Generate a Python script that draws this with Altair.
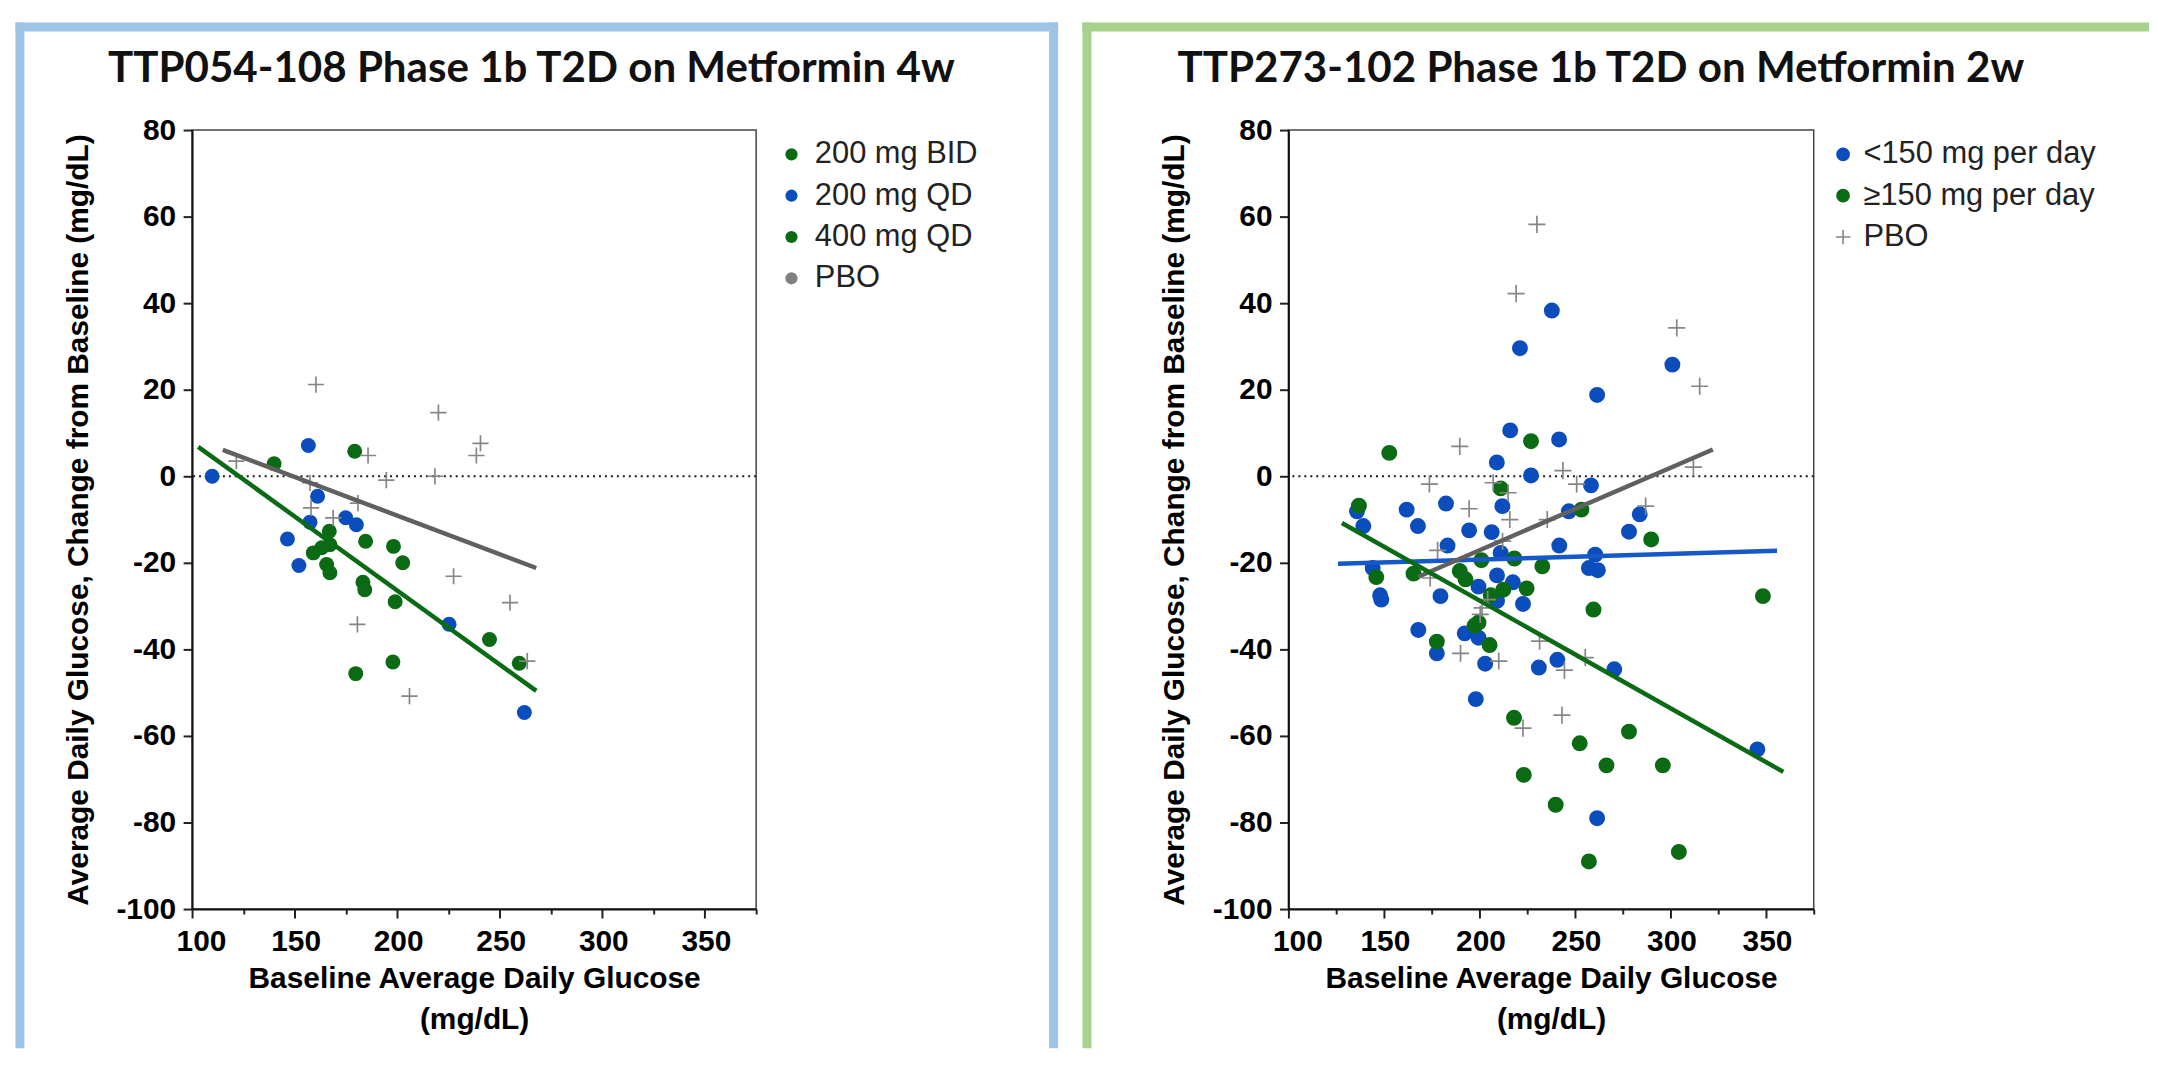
import altair as alt
import pandas as pd

# ---------------- data ----------------
X_TICKS = [100, 125, 150, 175, 200, 225, 250, 275, 300, 325, 350, 375]
Y_TICKS = [-100, -80, -60, -40, -20, 0, 20, 40, 60, 80]

L_TITLE = "TTP054-108 Phase 1b T2D on Metformin 4w"
R_TITLE = "TTP273-102 Phase 1b T2D on Metformin 2w"
X_TITLE = ["Baseline Average Daily Glucose", "(mg/dL)"]
Y_TITLE = "Average Daily Glucose, Change from Baseline (mg/dL)"

# left panel
L_GROUPS = ["200 mg BID", "200 mg QD", "400 mg QD", "PBO"]
L_BID200_X = [159.1, 163.2, 166.9, 167.2, 165.6, 167.2, 184.6, 198.2, 202.7]
L_BID200_Y = [-17.7, -16.5, -12.7, -15.8, -20.4, -22.3, -15.0, -16.2, -20.0]
L_QD400_X = [183.3, 184.2, 199.0, 179.8, 197.9, 140.0, 179.3, 245.0, 259.5]
L_QD400_Y = [-24.5, -26.2, -29.0, -45.6, -42.9, 2.9, 5.8, -37.7, -43.2]
L_QD200_X = [109.8, 156.7, 161.2, 157.5, 174.9, 180.1, 146.5, 152.1, 225.3, 262.0]
L_QD200_Y = [0.0, 7.1, -4.6, -10.6, -9.6, -11.2, -14.5, -20.6, -34.2, -54.6]
L_PBO_X = [160.4, 121.6, 157.5, 158.0, 168.8, 180.9, 185.8, 194.7, 180.6, 206.0,
           220.1, 240.6, 238.6, 218.4, 227.5, 255.0, 263.4]
L_PBO_Y = [21.2, 3.5, -1.5, -7.3, -9.6, -6.2, 4.8, -0.9, -34.2, -50.8,
           14.7, 7.6, 4.8, 0.0, -23.1, -29.2, -42.7]
L_FIT_ACTIVE_X = [103.0, 267.8]
L_FIT_ACTIVE_Y = [6.8, -49.6]
L_FIT_PBO_X = [115.0, 267.8]
L_FIT_PBO_Y = [6.1, -21.2]

# right panel
R_GROUPS = ["<150 mg per day", "\u2265150 mg per day", "PBO"]
R_LOW_X = [237.9, 221.2, 301.0, 261.6, 216.1, 241.7, 209.1, 227.0, 258.4, 212.0,
           182.5, 161.9, 135.9, 139.2, 167.8, 194.6, 206.4, 246.8, 283.9, 278.3,
           183.3, 241.8, 211.1, 260.6, 257.3, 262.0, 144.1, 148.0, 148.6, 179.6,
           168.0, 177.7, 192.3, 199.5, 199.5, 209.2, 217.5, 209.2, 222.8, 203.0,
           231.1, 240.8, 270.6, 198.1, 261.6, 345.5]
R_LOW_Y = [38.3, 29.6, 25.8, 18.8, 10.6, 8.5, 3.2, 0.2, -2.1, -6.9,
           -6.3, -7.7, -8.1, -11.5, -11.5, -12.5, -12.9, -8.1, -8.8, -12.8,
           -16.0, -16.0, -17.7, -18.1, -21.2, -21.7, -21.2, -27.5, -28.5, -27.7,
           -35.5, -40.9, -36.3, -37.3, -25.5, -22.9, -24.5, -28.8, -29.5, -43.3,
           -44.2, -42.4, -44.6, -51.5, -79.0, -63.1]
R_HIGH_X = [152.8, 227.0, 136.9, 211.1, 253.4, 289.9, 146.0, 165.5, 189.7, 192.7,
            201.0, 218.3, 232.9, 224.7, 205.9, 212.5, 197.5, 199.5, 177.7, 205.3,
            259.7, 348.4, 218.1, 252.5, 278.3, 266.5, 296.0, 223.2, 239.9, 257.3,
            304.4]
R_HIGH_Y = [5.4, 8.1, -6.8, -2.8, -7.7, -14.6, -23.3, -22.5, -21.9, -23.8,
            -19.4, -19.0, -20.8, -25.9, -27.5, -26.2, -34.5, -33.8, -38.2, -39.0,
            -30.8, -27.7, -55.8, -61.7, -59.0, -66.8, -66.8, -69.0, -75.9, -89.0,
            -86.8]
R_PBO_X = [230.1, 219.2, 303.3, 315.3, 189.7, 173.8, 207.2, 215.0, 194.6, 215.9,
           243.7, 250.9, 235.5, 287.0, 312.0, 178.1, 174.2, 212.1, 201.4, 200.4,
           204.3, 190.1, 210.1, 231.5, 255.4, 244.5, 243.2, 222.8]
R_PBO_Y = [58.2, 42.2, 34.3, 20.8, 6.9, -1.8, -1.5, -3.8, -7.5, -10.0,
           1.3, -1.8, -10.0, -6.9, 2.1, -17.1, -23.5, -15.0, -30.4, -31.9,
           -28.5, -40.9, -42.7, -38.1, -41.9, -44.8, -55.2, -58.2]
R_FIT_HIGH_X = [128.0, 359.1]
R_FIT_HIGH_Y = [-10.8, -68.3]
R_FIT_LOW_X = [126.0, 355.8]
R_FIT_LOW_Y = [-20.2, -17.2]
R_FIT_PBO_X = [168.0, 322.2]
R_FIT_PBO_Y = [-23.2, 6.2]

# ---------------- styling ----------------
GREEN = "#0b6b14"
BLUE = "#0c4dbd"
BLUE_LINE = "#1658c8"
GREY_LINE = "#606060"
GREY_PLUS = "#868686"
GREY_LEG = "#808080"
FRAME_BLUE = "#9dc3e6"
FRAME_GREEN = "#a9d18e"
PLUS = "M-1.2,0L1.2,0M0,-1.2L0,1.2"
H = 783


def pts(xs, ys, group):
    return pd.DataFrame({"x": xs, "y": ys, "group": [group] * len(xs)})


def x_enc():
    return alt.X(
        "x:Q",
        scale=alt.Scale(domain=[100, 375], nice=False, zero=False),
        axis=alt.Axis(
            values=X_TICKS,
            labelExpr="datum.value % 50 === 0 ? '' + datum.value : ''",
            tickSize={"condition": {"test": "datum.value % 50 === 0", "value": 9}, "value": 5},
            labelOffset={"condition": {"test": "datum.value === 100", "value": 9}, "value": 1},
            labelOverlap=False,
            labelFlush=False,
            labelPadding=9,
            title=X_TITLE,
            titlePadding=7,
            titleLineHeight=41,
        ),
    )


def y_enc():
    return alt.Y(
        "y:Q",
        scale=alt.Scale(domain=[-100, 80], nice=False, zero=False),
        axis=alt.Axis(values=Y_TICKS, tickSize=9, labelPadding=7.5,
                      labelExpr="datum.value < 0 ? '-' + abs(datum.value) : '' + datum.value",
                      title=Y_TITLE, titlePadding=23),
    )


def bar(x1, x2, y1, y2, color):
    # decorative frame side (panel border), placed in pixels
    return alt.Chart(pd.DataFrame({"k": [0]})).mark_rect(color=color).encode(
        x=alt.value(x1), x2=alt.value(x2), y=alt.value(y1), y2=alt.value(y2)
    )


def title_text(txt, x):
    return alt.Chart(pd.DataFrame({"t": [txt]})).mark_text(
        align="left", baseline="alphabetic", font="Lato", fontWeight="bold",
        fontSize=42.3, color="#111111"
    ).encode(x=alt.value(x), y=alt.value(-48), text="t:N")


def fit_line(xs, ys, color):
    return alt.Chart(pd.DataFrame({"x": xs, "y": ys})).mark_line(
        color=color, strokeWidth=4.5
    ).encode(x=x_enc(), y=y_enc())


def zero_line():
    return alt.Chart(pd.DataFrame({"k": [0]})).mark_rule(
        color="#1a1a1a", strokeDash=[2, 4], strokeWidth=2.2
    ).encode(y=alt.datum(0))


# ---------------- left panel ----------------
left_active = pd.concat([
    pts(L_QD200_X, L_QD200_Y, "200 mg QD"),
    pts(L_BID200_X, L_BID200_Y, "200 mg BID"),
    pts(L_QD400_X, L_QD400_Y, "400 mg QD"),
])
left_pbo = pts(L_PBO_X, L_PBO_Y, "PBO")

left_circles = alt.Chart(left_active).mark_circle(size=225, opacity=1).encode(
    x=x_enc(), y=y_enc(),
    color=alt.Color(
        "group:N",
        scale=alt.Scale(domain=L_GROUPS, range=[GREEN, BLUE, GREEN, GREY_LEG]),
        legend=alt.Legend(
            title=None, orient="none", legendX=587, legendY=9,
            symbolType="circle", symbolSize=150, rowPadding=9.5,
            labelOffset=8, labelFontSize=31, labelFont="Liberation Sans",
            labelColor="#222222", labelLimit=400, padding=0,
        ),
    ),
)
left_plus = alt.Chart(left_pbo).mark_point(
    shape=PLUS, filled=False, size=185, strokeWidth=1.7, color=GREY_PLUS, opacity=1
).encode(x=x_enc(), y=y_enc())

left = alt.layer(
    bar(-177.5, -168.5, -108, 923, FRAME_BLUE),
    bar(-177.5, 870.5, -108, -99, FRAME_BLUE),
    bar(861.5, 870.5, -108, 923, FRAME_BLUE),
    title_text(L_TITLE, -84.5),
    zero_line(),
    left_circles,
    left_plus,
    fit_line(L_FIT_PBO_X, L_FIT_PBO_Y, GREY_LINE),
    fit_line(L_FIT_ACTIVE_X, L_FIT_ACTIVE_Y, GREEN),
).properties(width=567, height=H)

# ---------------- right panel ----------------
right_pts = pd.concat([
    pts(R_LOW_X, R_LOW_Y, R_GROUPS[0]),
    pts(R_HIGH_X, R_HIGH_Y, R_GROUPS[1]),
    pts(R_PBO_X, R_PBO_Y, R_GROUPS[2]),
])
r_legend = alt.Legend(
    title=None, orient="none", legendX=542, legendY=9,
    symbolSize=150, symbolStrokeWidth=1.6, rowPadding=9.5,
    labelOffset=5, labelFontSize=31, labelFont="Liberation Sans",
    labelColor="#222222", labelLimit=400, padding=0,
)
right_marks = alt.Chart(right_pts).mark_point(
    filled=False, size=205, strokeWidth=1.7, opacity=1
).encode(
    x=x_enc(), y=y_enc(),
    fill=alt.Fill("group:N", scale=alt.Scale(domain=R_GROUPS, range=[BLUE, GREEN, "transparent"]),
                  legend=r_legend),
    stroke=alt.Stroke("group:N", scale=alt.Scale(domain=R_GROUPS, range=[BLUE, GREEN, GREY_PLUS]),
                      legend=r_legend),
    shape=alt.Shape("group:N", scale=alt.Scale(domain=R_GROUPS, range=["circle", "circle", PLUS]),
                    legend=r_legend),
)

right = alt.layer(
    bar(-207, -198, -108, 923, FRAME_GREEN),
    bar(-207, 865, -108, -99, FRAME_GREEN),
    title_text(R_TITLE, -111.5),
    zero_line(),
    right_marks,
    fit_line(R_FIT_LOW_X, R_FIT_LOW_Y, BLUE_LINE),
    fit_line(R_FIT_PBO_X, R_FIT_PBO_Y, GREY_LINE),
    fit_line(R_FIT_HIGH_X, R_FIT_HIGH_Y, GREEN),
).properties(width=528, height=H)

chart = alt.hconcat(left, right, spacing=22).resolve_scale(
    color="independent", fill="independent", stroke="independent", shape="independent"
).resolve_legend(
    color="independent", fill="independent", stroke="independent", shape="independent"
).properties(
    padding={"left": 6, "top": 11, "right": 0, "bottom": 0},
    background="#ffffff",
).configure_view(
    stroke="#444444", strokeWidth=1.5
).configure_axis(
    grid=False,
    domainColor="#111111", domainWidth=2,
    tickColor="#222222", tickWidth=2,
    labelFont="Liberation Sans", labelFontWeight="bold", labelFontSize=30, labelColor="#000000",
    titleFont="Liberation Sans", titleFontWeight="bold", titleFontSize=30, titleColor="#000000",
)

chart.save("out.html", embed_options={"renderer": "svg", "actions": False})
